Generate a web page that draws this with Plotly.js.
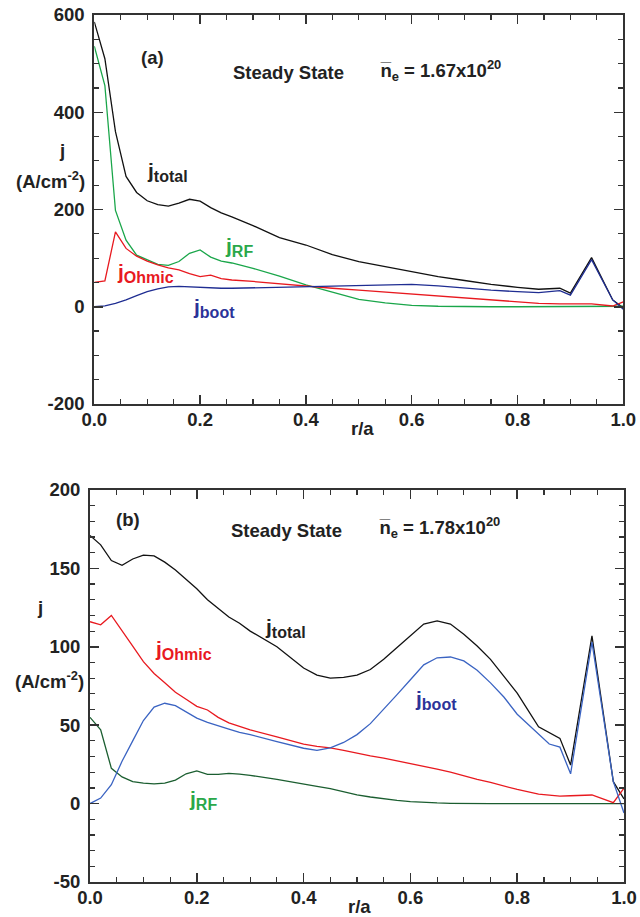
<!DOCTYPE html>
<html><head><meta charset="utf-8">
<script src="https://cdn.plot.ly/plotly-3.0.1.min.js"></script>
<style>html,body{margin:0;padding:0;background:#fff}#plot{width:640px;height:917px}</style>
</head><body><div id="plot"></div>
<script>
// ---------- data: panel (a) ----------
const rA = [0,0.02,0.04,0.06,0.08,0.10,0.12,0.14,0.16,0.18,0.20,0.22,0.24,0.26,0.30,0.35,0.40,0.45,0.50,0.55,0.60,0.65,0.70,0.75,0.80,0.84,0.88,0.90,0.94,0.98,1.0];
const totalA = [586,510,360,268,235,218,210,207,213,221,217,204,193,185,167,142,127,107,93,83,72,62,54,46,40,36,38,28,101,14,-2];
const rfA    = [536,455,198,137,106,96,87,85,93,110,117,102,94,90,79,63,45,30,15,8,3,1,0,0,0,0,0,0,0,0,1];
const ohmicA = [50,53,154,120,104,94,86,80,76,68,62,65,58,55,52,47,42,38,34,30,25,21,17,13,9,7,6,6,6,1.5,10];
const bootA  = [0,2,7,14,23,31,37,41,42,41,39,38,38,38,39,40,41,43,45,46,46,43,38,34,31,29,33,24,97,14,-5];
// ---------- data: panel (b) ----------
const rB = [0,0.02,0.04,0.06,0.08,0.10,0.12,0.14,0.16,0.18,0.20,0.22,0.24,0.26,0.28,0.30,0.35,0.40,0.425,0.45,0.475,0.50,0.525,0.55,0.575,0.60,0.625,0.65,0.675,0.70,0.725,0.75,0.775,0.80,0.84,0.86,0.88,0.90,0.94,0.98,1.0];
const totalB = [171,165,155,152,156,158.5,158,154,149,143,137,130,124.5,119,115,110,100,86.5,82,80,80.5,82,85.5,92,99.5,107,114.5,116.5,114.5,108,100.5,92,81.5,70.5,49,45.5,41.6,24.6,107,14,3];
const bootB  = [0,3.5,12,27,40,53,61.5,64,62.5,58.5,54.5,51.8,49.5,47.5,45.5,44,39.5,35.3,34,35.5,39,44,51,60,69.5,79,88.5,93,93.5,91,85,77,68,57,44,38,36,19,103,14,-6];
const ohmicB = [116,114,120,110.5,100.5,90.5,83,77,71,66.5,62,59.7,55,51.5,49,47,42.5,38,36.5,35.5,34,32,30.5,29,27.3,25.5,23.5,22,20,17.5,15.5,13.5,11,9,6,5.2,4.8,5,5.5,0.6,9.8];
const rfB    = [55,47,22.5,17,14,13,12.6,13,15,19,20.8,18.7,18.7,19.3,18.8,18,15.5,12.8,11,9.5,7.5,5.5,4.2,3,2,1.2,0.7,0.4,0.2,0,0,0,0,0,0,0,0,0,0,0,0];

const xTickVals = [0,0.2,0.4,0.6,0.8,1.0];
const xTickText = ['0.0','0.2','0.4','0.6','0.8','1.0'];
const yTickValsA = [-200,0,200,400,600];
const yTickValsB = [-50,0,50,100,150,200];

const FONT = '"Liberation Sans", Arial, sans-serif';
const W = 640, H = 917;

function line(x, y, color, xa, ya) {
  return {x: x, y: y, type: 'scatter', mode: 'lines', xaxis: xa, yaxis: ya,
          line: {color: color, width: 1.3}, hoverinfo: 'skip', showlegend: false};
}
const traces = [
  line(rA, totalA, '#111111', 'x', 'y'),
  line(rA, rfA, '#1aa64a', 'x', 'y'),
  line(rA, ohmicA, '#e8191f', 'x', 'y'),
  line(rA, bootA, '#1f2d92', 'x', 'y'),
  line(rB, totalB, '#111111', 'x2', 'y2'),
  line(rB, rfB, '#1b5e30', 'x2', 'y2'),
  line(rB, ohmicB, '#e8191f', 'x2', 'y2'),
  line(rB, bootB, '#3a63c2', 'x2', 'y2')
];

function xAxis(domain, anchor) {
  return {domain: domain, anchor: anchor, range: [0, 1], tickvals: xTickVals, ticktext: xTickText,
    ticks: 'inside', ticklen: 9, tickwidth: 1.5, tickcolor: '#333',
    minor: {dtick: 0.05, tick0: 0, ticks: 'inside', ticklen: 5, tickwidth: 1.2, tickcolor: '#333'},
    showline: true, linewidth: 2, linecolor: '#333', mirror: 'ticks',
    showgrid: false, zeroline: false, ticklabelstandoff: -2,
    tickfont: {family: FONT, size: 18.5, color: '#222', weight: 'bold'}};
}
function yAxis(domain, anchor, range, vals, minorDt) {
  return {domain: domain, anchor: anchor, range: range, tickvals: vals, ticktext: vals.map(String),
    ticks: 'inside', ticklen: 9, tickwidth: 1.5, tickcolor: '#333',
    minor: {dtick: minorDt, tick0: 0, ticks: 'inside', ticklen: 5, tickwidth: 1.2, tickcolor: '#333'},
    showline: true, linewidth: 2, linecolor: '#333', mirror: 'ticks',
    showgrid: false, zeroline: false, ticklabelstandoff: 4,
    tickfont: {family: FONT, size: 18.5, color: '#222', weight: 'bold'}};
}

function ann(text, x, y, color, xanchor, size) {
  return {text: text, x: x / W, y: 1 - y / H, xref: 'paper', yref: 'paper',
    xanchor: xanchor || 'center', yanchor: 'middle', showarrow: false,
    font: {family: FONT, size: size || 18.5, color: color || '#222', weight: 'bold'}};
}
function jlab(sub) { return 'j<sub><span style="font-size:16px">' + sub + '</span></sub>'; }
const NE = 'n\u0305<sub>e</sub> = ';
const annotations = [
  ann('(a)', 152, 58),
  ann('Steady State', 288, 73),
  ann(NE + '1.67x10<sup>20</sup>', 378, 70, '#222', 'left'),
  ann(jlab('total'), 145, 172, '#222', 'left', 21),
  ann(jlab('RF'), 223, 247, '#2aa84a', 'left', 21),
  ann(jlab('Ohmic'), 115, 273, '#e8191f', 'left', 21),
  ann(jlab('boot'), 191, 308, '#2b3399', 'left', 21),
  ann('j', 62, 150),
  ann('(A/cm<sup>-2</sup>)', 50, 180),
  ann('r/a', 362, 428),
  ann('(b)', 128, 519),
  ann('Steady State', 286, 530),
  ann(NE + '1.78x10<sup>20</sup>', 377, 527, '#222', 'left'),
  ann(jlab('total'), 263, 628, '#222', 'left', 21),
  ann(jlab('Ohmic'), 153, 650, '#e8191f', 'left', 21),
  ann(jlab('RF'), 187, 800, '#2aa84a', 'left', 21),
  ann(jlab('boot'), 413, 700, '#2b3399', 'left', 21),
  ann('j', 40, 607),
  ann('(A/cm<sup>-2</sup>)', 49, 680),
  ann('r/a', 359, 906)
];

const layout = {
  width: W, height: H, margin: {l: 0, r: 0, t: 0, b: 0},
  paper_bgcolor: '#fff', plot_bgcolor: '#fff', showlegend: false,
  xaxis: xAxis([94.3 / W, 623.3 / W], 'y'),
  yaxis: yAxis([1 - 404 / H, 1 - 15 / H], 'x', [-200, 600], yTickValsA, 50),
  xaxis2: xAxis([90 / W, 624 / W], 'y2'),
  yaxis2: yAxis([1 - 882 / H, 1 - 490 / H], 'x2', [-50, 200], yTickValsB, 10),
  annotations: annotations
};
Plotly.newPlot('plot', traces, layout, {staticPlot: true, displayModeBar: false});
</script></body></html>
